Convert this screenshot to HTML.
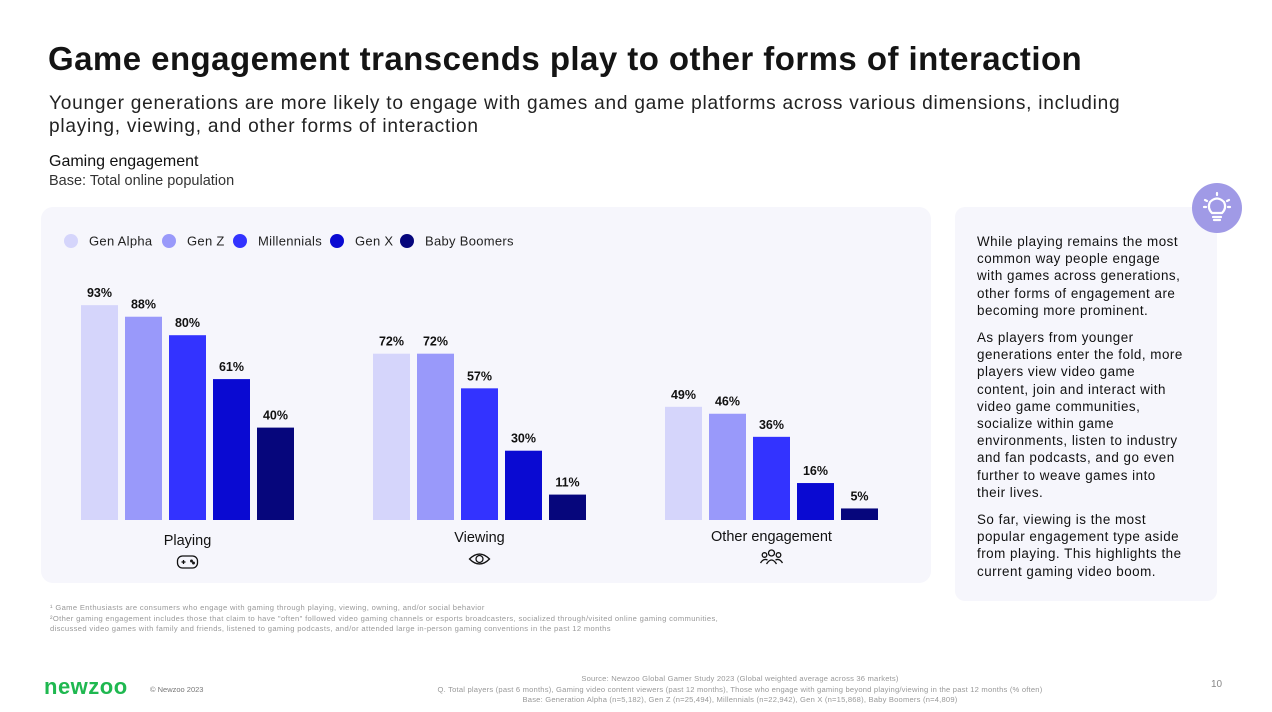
<!DOCTYPE html>
<html><head><meta charset="utf-8"><style>
body{margin:0;width:1272px;height:712px;background:#fff;font-family:"Liberation Sans",sans-serif;position:relative;overflow:hidden;color:#111}
.a{position:absolute;margin:0}
</style></head><body>
<h1 class="a" style="left:48px;top:40px;font-size:33px;font-weight:bold;color:#141414;letter-spacing:0.45px">Game engagement transcends play to other forms of interaction</h1>
<p class="a" style="left:49px;top:92px;font-size:19.1px;line-height:23px;width:1100px;color:#222;letter-spacing:0.75px">Younger generations are more likely to engage with games and game platforms across various dimensions, including playing, viewing, and other forms of interaction</p>
<div class="a" style="left:49px;top:153px;font-size:16px;color:#111">Gaming engagement</div>
<div class="a" style="left:49px;top:173px;font-size:14.5px;color:#333">Base: Total online population</div>
<div class="a" style="left:41px;top:207px;width:890px;height:376px;background:#f6f6fc;border-radius:12px"></div>
<div class="a" style="left:955px;top:207px;width:262px;height:394px;background:#f6f6fc;border-radius:10px"></div>
<div class="a" style="left:1192px;top:183px;width:50px;height:50px;border-radius:50%;background:#a09ae6">
<svg width="50" height="50" viewBox="0 0 50 50"><g stroke="#fff" stroke-width="2.2" fill="none" stroke-linecap="round"><path d="M20 30 Q15 25 18 19 Q25 12 32 19 Q35 25 30 30 Z"/><line x1="21" y1="34" x2="29" y2="34"/><line x1="22" y1="37" x2="28" y2="37"/><line x1="25" y1="10" x2="25" y2="12"/><line x1="13" y1="17" x2="15" y2="18"/><line x1="37" y1="17" x2="35" y2="18"/><line x1="12" y1="24" x2="14" y2="24"/><line x1="36" y1="24" x2="38" y2="24"/></g></svg></div>
<div class="a" style="left:977px;top:233px;width:207px;font-size:13.4px;line-height:17.2px;color:#111;letter-spacing:0.5px">
<p style="margin:0 0 10px">While playing remains the most common way people engage with games across generations, other forms of engagement are becoming more prominent.</p>
<p style="margin:0 0 10px">As players from younger generations enter the fold, more players view video game content, join and interact with video game communities, socialize within game environments, listen to industry and fan podcasts, and go even further to weave games into their lives.</p>
<p style="margin:0">So far, viewing is the most popular engagement type aside from playing. This highlights the current gaming video boom.</p></div>
<svg class="a" id="chart" style="left:0;top:0" width="1272" height="712"></svg>
<div class="a" style="left:50px;top:603px;font-size:7.6px;line-height:10.5px;color:#999;width:680px;letter-spacing:0.35px">¹ Game Enthusiasts are consumers who engage with gaming through playing, viewing, owning, and/or social behavior<br>²Other gaming engagement includes those that claim to have "often" followed video gaming channels or esports broadcasters, socialized through/visited online gaming communities, discussed video games with family and friends, listened to gaming podcasts, and/or attended large in-person gaming conventions in the past 12 months</div>
<div class="a" style="left:44px;top:674px;font-size:22px;font-weight:bold;color:#1fb850;letter-spacing:0.5px">newzoo</div>
<div class="a" style="left:150px;top:685px;font-size:7.5px;color:#777">© Newzoo 2023</div>
<div class="a" style="left:360px;top:674px;width:760px;text-align:center;font-size:7.6px;line-height:10.5px;color:#999;letter-spacing:0.2px">Source: Newzoo Global Gamer Study 2023 (Global weighted average across 36 markets)<br>Q. Total players (past 6 months), Gaming video content viewers (past 12 months), Those who engage with gaming beyond playing/viewing in the past 12 months (% often)<br>Base: Generation Alpha (n=5,182), Gen Z (n=25,494), Millennials (n=22,942), Gen X (n=15,868), Baby Boomers (n=4,809)</div>
<div class="a" style="left:1211px;top:679px;font-size:10px;color:#888">10</div>
<script>
const categories=["Playing","Viewing","Other engagement"];
const series=["Gen Alpha","Gen Z","Millennials","Gen X","Baby Boomers"];
const colors=["#d5d5fb","#9999fa","#3333ff","#0a0ad2","#06067c"];
const genAlpha=[93,72,49];
const genZ=[88,72,46];
const millennials=[80,57,36];
const genX=[61,30,16];
const babyBoomers=[40,11,5];
const values=[genAlpha,genZ,millennials,genX,babyBoomers];
const NS="http://www.w3.org/2000/svg";
const svg=document.getElementById('chart');
const base=520,scale=2.31,g0=81,gStep=292,bStep=44,bw=37;
const y=v=>base-v*scale;
function mk(t,a){const e=document.createElementNS(NS,t);for(const k in a)e.setAttribute(k,a[k]);svg.appendChild(e);return e;}
const lx=[71,169,240,337,407];
series.forEach((s,i)=>{
 const c=mk('circle',{cx:lx[i],cy:241,r:7,fill:colors[i]});
 
 
 const t=mk('text',{x:lx[i]+18,y:245.5,'font-size':13,fill:'#222','font-family':'Liberation Sans, sans-serif','letter-spacing':'0.3'});
 t.textContent=s;
 
 
});
categories.forEach((c,ci)=>{
 values.forEach((arr,si)=>{
  const x=g0+ci*gStep+si*bStep,v=arr[ci];
  const r=mk('rect',{x:x,y:y(v),width:bw,height:base-y(v),fill:colors[si]});
  
  
  const t=mk('text',{x:x+bw/2,y:y(v)-8,'text-anchor':'middle','font-size':12.5,'font-weight':'bold',fill:'#111','font-family':'Liberation Sans, sans-serif'});
  t.textContent=v+'%';
  
  
 });
 const cx=g0+ci*gStep+2*bStep+bw/2;
 const lt=mk('text',{x:cx,y:[545,542,541][ci],'text-anchor':'middle','font-size':14.5,fill:'#111','font-family':'Liberation Sans, sans-serif'});
 lt.textContent=c;
 
 
 const iy=[562,559,557][ci];
 const ic=document.createElementNS(NS,'g');
 
 
 ic.setAttribute('transform',`translate(${cx},${iy})`);
 ic.setAttribute('stroke','#111');ic.setAttribute('fill','none');ic.setAttribute('stroke-width','1.3');
 if(ci==0)ic.innerHTML='<rect x="-10" y="-6" width="20" height="12" rx="5"/><line x1="-6" y1="0" x2="-2" y2="0"/><line x1="-4" y1="-2" x2="-4" y2="2"/><circle cx="4" cy="-1" r="0.8"/><circle cx="6" cy="1" r="0.8"/>';
 else if(ci==1)ic.innerHTML='<path d="M-10 0 Q0 -10 10 0 Q0 10 -10 0Z"/><circle cx="0" cy="0" r="3.5"/>';
 else ic.innerHTML='<circle cx="0" cy="-4" r="3"/><path d="M-5 7 Q0 -1 5 7"/><circle cx="-7" cy="-2" r="2.3"/><circle cx="7" cy="-2" r="2.3"/><path d="M-11 6 Q-8 1 -4 3"/><path d="M11 6 Q8 1 4 3"/>';
 svg.appendChild(ic);
});
</script>
</body></html>
